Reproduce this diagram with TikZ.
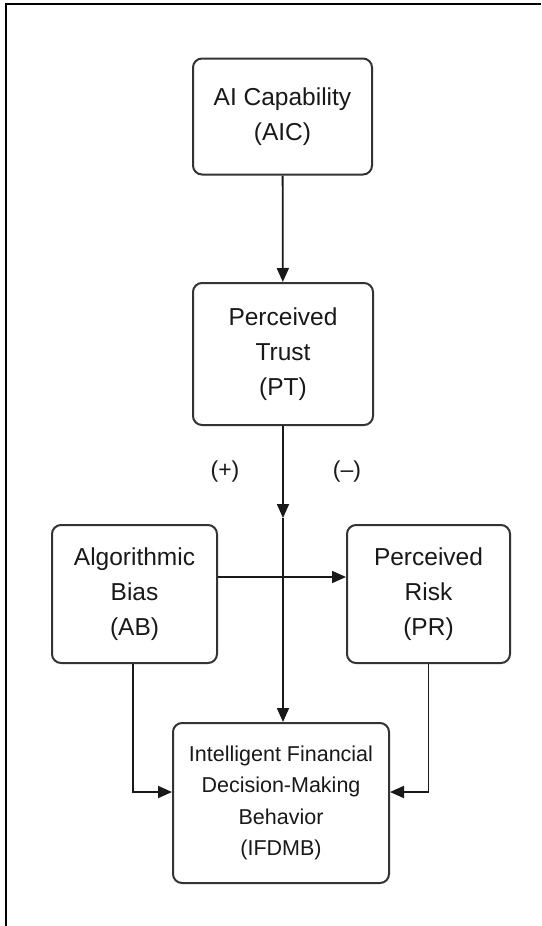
\documentclass[tikz,border=0pt]{standalone}
\usepackage{fontspec}
\setmainfont{Liberation Sans}
\usetikzlibrary{arrows.meta,calc}
\begin{document}
\begin{tikzpicture}[x=1pt,y=-1pt,
  box/.style={draw=black!80, line width=2pt, rounded corners=9pt, fill=white,
    align=center, text=black!90, inner sep=0pt,
    font=\fontsize{24.5}{35}\selectfont},
  smallbox/.style={box, font=\fontsize{21.5}{31.5}\selectfont},
  conn/.style={draw=black!90, line width=1.8pt, -{Triangle[length=14pt,width=12pt]}},
  sign/.style={text=black!90, font=\fontsize{23}{27}\selectfont},
  frame/.style={draw=black, line width=2pt}]
\useasboundingbox (0,0) rectangle (541,926);
\draw[frame] (541,4) -- (6,4) -- (6,926);
\node[box, minimum width=179pt, minimum height=116pt] (aic) at (282.5,116.5) {AI Capability\\(AIC)};
\node[box, minimum width=180pt, minimum height=142pt] (pt) at (283,354) {Perceived\\Trust\\(PT)};
\node[box, minimum width=165pt, minimum height=138pt] (ab) at (134.5,594) {Algorithmic\\Bias\\(AB)};
\node[box, minimum width=163pt, minimum height=138pt] (pr) at (428.5,594) {Perceived\\Risk\\(PR)};
\node[smallbox, minimum width=216pt, minimum height=160pt] (ifd) at (281,803) {Intelligent Financial\\Decision-Making\\Behavior\\(IFDMB)};
\node[sign] (plus) at (225,472) {(+)};
\node[sign] (minus) at (347,472) {(–)};
\coordinate (mid) at ($(pt.south)+(0,92)$);
\draw[conn] (aic) -- (pt);
\draw[conn] (pt.south) -- (mid);
\draw[conn] (mid) -- (mid |- ifd.north);
\draw[conn] ($(ab.east)+(0,-17)$) -- ($(pr.west)+(0,-17)$);
\draw[conn] ([xshift=-1.5pt]ab.south) |- ($(ifd.west)+(0,-11)$);
\draw[conn] (pr.south) |- ($(ifd.east)+(0,-11)$);
\end{tikzpicture}
\end{document}
